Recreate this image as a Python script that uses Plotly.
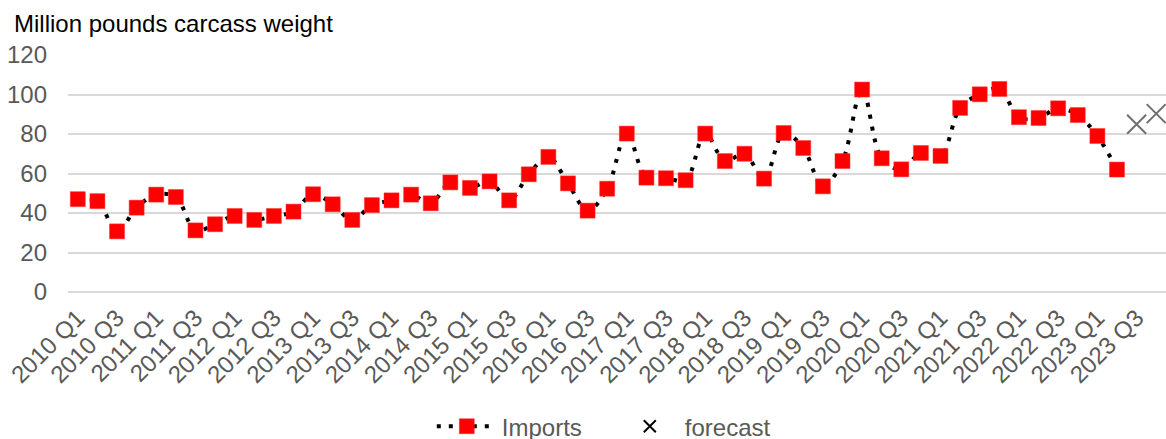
import plotly.graph_objects as go

# Quarterly categories 2010 Q1 .. 2023 Q4
years = list(range(2010, 2024))
quarters = [f"{y} Q{q}" for y in years for q in range(1, 5)]

# Imports, million pounds carcass weight (2010 Q1 .. 2023 Q2)
imports = [
    47.0, 46.0, 30.7, 42.7, 49.3, 48.1, 31.2, 34.3,
    38.5, 36.5, 38.5, 40.7, 49.5, 44.4, 36.5, 44.0,
    46.4, 49.3, 44.9, 55.5, 52.7, 56.0, 46.4, 59.6,
    68.4, 55.0, 41.2, 52.3, 80.2, 57.9, 57.6, 56.6,
    80.2, 66.3, 70.0, 57.4, 80.5, 72.9, 53.5, 66.3,
    102.5, 67.7, 62.1, 70.4, 68.9, 93.2, 100.1, 102.8,
    88.5, 88.1, 93.0, 89.6, 79.0, 62.0,
]
# Forecast for 2023 Q3 and 2023 Q4
forecast = [84.9, 90.3]

import_cats = quarters[:len(imports)]
forecast_cats = quarters[len(imports):len(imports) + len(forecast)]
tick_labels = quarters[::2]

FONT = "Arial, Liberation Sans, sans-serif"
GRAY_TXT = "#595959"
FS = 24

fig = go.Figure()

fig.add_trace(go.Scatter(
    x=import_cats, y=imports, name="Imports",
    mode="lines+markers",
    line=dict(color="black", width=4, dash="4px,8px", shape="spline", smoothing=1),
    marker=dict(symbol="square", size=15, color="#ff0000",
                line=dict(color="#ff3333", width=0.5)),
))

# forecast points drawn in gray, legend entry drawn in black
fig.add_trace(go.Scatter(
    x=forecast_cats, y=forecast, name="forecast", mode="markers",
    legendgroup="fc", showlegend=False,
    marker=dict(symbol="x-thin-open", size=19, color="#707070",
                line=dict(color="#707070", width=2)),
))
fig.add_trace(go.Scatter(
    x=[None], y=[None], name="forecast", mode="markers",
    legendgroup="fc",
    marker=dict(symbol="x-thin-open", size=12, color="black",
                line=dict(color="black", width=2)),
))

fig.update_layout(
    width=1166, height=439,
    margin=dict(l=68, r=0, t=55, b=147, autoexpand=False),
    paper_bgcolor="white", plot_bgcolor="white",
    font=dict(family=FONT, size=FS, color=GRAY_TXT),
    showlegend=True,
    legend=dict(orientation="h", x=0.498, xanchor="center",
                yref="paper", y=-0.568, yanchor="middle",
                font=dict(size=FS, color=GRAY_TXT),
                itemwidth=60, entrywidth=108),
    annotations=[dict(
        text="Million pounds carcass weight", xref="paper", yref="paper",
        x=0, y=1, xshift=-56, yshift=16, xanchor="left", yanchor="bottom",
        showarrow=False, font=dict(family=FONT, size=FS, color="black"),
    )],
)

fig.update_xaxes(
    type="category", categoryorder="array", categoryarray=quarters,
    range=[-0.5, len(quarters) - 0.5],
    tickmode="array", tickvals=tick_labels, ticktext=tick_labels,
    tickangle=-45, showgrid=False, showline=False, ticks="",
    ticklabelstandoff=6,
    tickfont=dict(family=FONT, size=FS, color=GRAY_TXT),
)
fig.update_yaxes(
    range=[0, 120], tickvals=[0, 20, 40, 60, 80, 100, 120],
    showgrid=True, gridcolor="#d9d9d9", gridwidth=2,
    zeroline=True, zerolinecolor="#d9d9d9", zerolinewidth=2,
    showline=False, ticks="", ticklabelstandoff=20,
    tickfont=dict(family=FONT, size=FS, color=GRAY_TXT),
)

fig.write_html("out.html")
